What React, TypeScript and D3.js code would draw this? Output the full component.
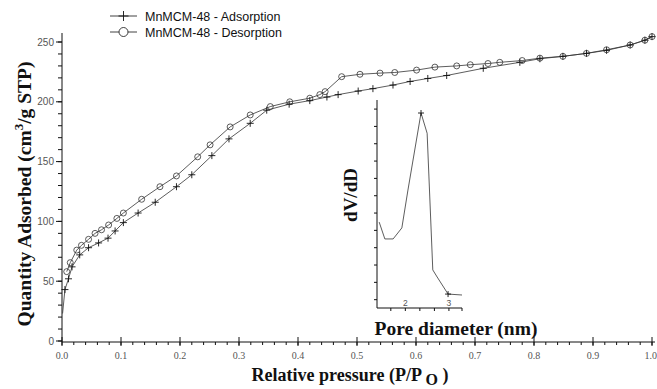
import * as d3 from "d3";
import React, { useEffect, useRef } from "react";

// isotherm
const adsP = [0.001, 0.005, 0.011, 0.017, 0.03, 0.045, 0.062, 0.078, 0.09, 0.104, 0.129, 0.158, 0.194, 0.22, 0.254, 0.283, 0.319, 0.347, 0.385, 0.42, 0.449, 0.468, 0.502, 0.527, 0.561, 0.59, 0.62, 0.652, 0.714, 0.776, 0.81, 0.849, 0.889, 0.923, 0.963, 0.988, 1.0];
const adsQ = [23, 43, 52, 62, 72, 78, 82, 86, 92, 99, 107, 116, 129, 139, 155, 169, 182, 193, 198, 201, 204, 206, 209, 211, 214, 217, 219.5, 222, 228, 233, 236, 238, 240.5, 243, 247.5, 251.5, 254.5];

const desP = [0.008, 0.014, 0.025, 0.033, 0.045, 0.056, 0.067, 0.079, 0.093, 0.104, 0.135, 0.166, 0.194, 0.23, 0.251, 0.285, 0.319, 0.353, 0.386, 0.42, 0.437, 0.446, 0.474, 0.505, 0.539, 0.564, 0.601, 0.632, 0.669, 0.692, 0.722, 0.742, 0.78, 0.81, 0.849, 0.889, 0.923, 0.963, 0.988, 1.0];
const desQ = [58, 65.5, 76, 80, 85, 90, 93, 97, 102.5, 107, 118.5, 129, 138, 154, 164, 179, 189, 196, 200, 203, 206, 208.5, 221, 223, 224, 224.5, 226.5, 229, 230, 231, 232, 233, 234.5, 236.5, 238, 240.5, 243.5, 247.5, 251.5, 254.5];

// pore size distribution (inset)
const poreD = [1.4, 1.53, 1.72, 1.92, 2.06, 2.36, 2.5, 2.63, 2.73, 2.98, 3.3];
const poreV = [0.413, 0.332, 0.332, 0.385, 0.567, 0.9375, 0.84, 0.183, 0.149, 0.067, 0.0625];

const xTicks = [0, 0.1, 0.2, 0.3, 0.4, 0.5, 0.6, 0.7, 0.8, 0.9, 1.0];
const yTicks = [0, 50, 100, 150, 200, 250];
const seriesNames = ["MnMCM-48 - Adsorption", "MnMCM-48 - Desorption"];

const App: React.FC = () => {
  const svgRef = useRef<SVGSVGElement>(null);

  useEffect(() => {
    const svg = d3.select(svgRef.current);
    svg.selectAll("*").remove();

    const x = d3.scaleLinear().domain([0, 1]).range([62, 652]);
    const y = d3.scaleLinear().domain([0, 250]).range([341, 42]);
    const ink = "#111";
    const serif = "'Liberation Serif', 'Times New Roman', serif";
    const sans = "'Liberation Sans', Arial, sans-serif";

    // axes
    const g = svg.append("g");
    g.append("line").attr("x1", x(0)).attr("x2", 655).attr("y1", y(0) + 1).attr("y2", y(0) + 1).attr("stroke", ink);
    g.append("line").attr("x1", x(0)).attr("x2", x(0)).attr("y1", y(0) + 1).attr("y2", 33).attr("stroke", ink);

    const xMinor = d3.range(0, 1.001, 0.02);
    g.selectAll(".xm").data(xMinor).enter().append("line")
      .attr("x1", (d) => x(d)).attr("x2", (d) => x(d))
      .attr("y1", y(0) + 1).attr("y2", y(0) + 4).attr("stroke", ink);
    g.selectAll(".xM").data(xTicks).enter().append("line")
      .attr("x1", (d) => x(d)).attr("x2", (d) => x(d))
      .attr("y1", y(0) - 4).attr("y2", y(0) + 5).attr("stroke", ink);
    g.selectAll(".xl").data(xTicks).enter().append("text")
      .attr("x", (d) => x(d)).attr("y", 359).attr("text-anchor", (d) => (d === 1 ? "end" : "middle"))
      .attr("dx", (d) => (d === 1 ? 5 : 0))
      .attr("font-family", serif).attr("font-size", 10).attr("fill", "#555")
      .text((d) => d.toFixed(1));

    const yMinor = d3.range(0, 251, 10);
    g.selectAll(".ym").data(yMinor).enter().append("line")
      .attr("x1", x(0) - 4).attr("x2", x(0))
      .attr("y1", (d) => y(d)).attr("y2", (d) => y(d)).attr("stroke", ink);
    g.selectAll(".yM").data(yTicks).enter().append("line")
      .attr("x1", x(0) - 6).attr("x2", x(0))
      .attr("y1", (d) => y(d)).attr("y2", (d) => y(d)).attr("stroke", ink);
    g.selectAll(".yl").data(yTicks).enter().append("text")
      .attr("x", x(0) - 8).attr("y", (d) => y(d) + 3.5).attr("text-anchor", "end")
      .attr("font-family", sans).attr("font-size", 10).attr("fill", "#555")
      .text((d) => d);

    // axis titles
    const yt = svg.append("text")
      .attr("transform", "translate(31,194) rotate(-90)")
      .attr("text-anchor", "middle").attr("font-family", serif)
      .attr("font-weight", "bold").attr("font-size", 19.5).attr("fill", ink);
    yt.append("tspan").text("Quantity Adsorbed (cm");
    yt.append("tspan").attr("dy", -8).attr("font-size", 13).text("3");
    yt.append("tspan").attr("dy", 8).text("/g STP)");

    const xt = svg.append("text")
      .attr("x", 350).attr("y", 381).attr("text-anchor", "middle")
      .attr("font-family", serif).attr("font-weight", "bold").attr("font-size", 18).attr("fill", ink);
    xt.append("tspan").text("Relative pressure (P/P ");
    xt.append("tspan").attr("dy", 4).attr("font-size", 16).text("O");
    xt.append("tspan").attr("dy", -4).text(" )");

    // series
    const adsData = adsP.map((p, i) => [p, adsQ[i]] as [number, number]);
    const desData = desP.map((p, i) => [p, desQ[i]] as [number, number]);
    const line = d3.line<[number, number]>().x((d) => x(d[0])).y((d) => y(d[1]));

    svg.append("path").attr("d", line(adsData)).attr("fill", "none").attr("stroke", "#333").attr("stroke-width", 0.8);
    svg.append("path").attr("d", line(desData)).attr("fill", "none").attr("stroke", "#333").attr("stroke-width", 0.8);

    const plus = (sel: d3.Selection<SVGGElement, unknown, null, undefined>, cx: number, cy: number, r: number) => {
      sel.append("line").attr("x1", cx - r).attr("x2", cx + r).attr("y1", cy).attr("y2", cy).attr("stroke", ink).attr("stroke-width", 0.9);
      sel.append("line").attr("x1", cx).attr("x2", cx).attr("y1", cy - r).attr("y2", cy + r).attr("stroke", ink).attr("stroke-width", 0.9);
    };

    const marks = svg.append("g") as d3.Selection<SVGGElement, unknown, null, undefined>;
    adsData.slice(1).forEach((d) => plus(marks, x(d[0]), y(d[1]), 3.5));
    marks.selectAll("circle").data(desData).enter().append("circle")
      .attr("cx", (d) => x(d[0])).attr("cy", (d) => y(d[1])).attr("r", 3)
      .attr("fill", "none").attr("stroke", "#333").attr("stroke-width", 0.8);

    // legend
    const lg = svg.append("g") as d3.Selection<SVGGElement, unknown, null, undefined>;
    seriesNames.forEach((name, i) => {
      const ly = 16 + i * 16;
      lg.append("line").attr("x1", 110).attr("x2", 137).attr("y1", ly).attr("y2", ly).attr("stroke", ink).attr("stroke-width", 0.8);
      if (i === 0) plus(lg, 123.5, ly, 5);
      else lg.append("circle").attr("cx", 123.5).attr("cy", ly).attr("r", 4.5).attr("fill", "white").attr("stroke", ink).attr("stroke-width", 0.8);
      lg.append("text").attr("x", 145).attr("y", ly + 4.5)
        .attr("font-family", sans).attr("font-size", 12.5).attr("fill", ink).text(name);
    });

    // inset
    const ix = d3.scaleLinear().domain([1.35, 3.3]).range([377, 462]);
    const iy = d3.scaleLinear().domain([0, 1]).range([308, 100]);
    const ins = svg.append("g") as d3.Selection<SVGGElement, unknown, null, undefined>;
    ins.append("line").attr("x1", ix(1.35)).attr("x2", ix(1.35)).attr("y1", iy(0)).attr("y2", iy(1)).attr("stroke", ink);
    ins.append("line").attr("x1", ix(1.35)).attr("x2", ix(3.3)).attr("y1", iy(0)).attr("y2", iy(0)).attr("stroke", ink);
    ins.selectAll(".iyt").data(d3.range(0.04, 0.96, 0.0833)).enter().append("line")
      .attr("x1", ix(1.35) - 3).attr("x2", ix(1.35))
      .attr("y1", (d) => iy(d)).attr("y2", (d) => iy(d)).attr("stroke", ink);
    ins.selectAll(".ixt").data([1.667, 2, 2.333, 2.667, 3, 3.3]).enter().append("line")
      .attr("x1", (d) => ix(d)).attr("x2", (d) => ix(d))
      .attr("y1", iy(0)).attr("y2", iy(0) + 3).attr("stroke", ink);
    ins.selectAll(".ixl").data([2, 3]).enter().append("text")
      .attr("x", (d) => ix(d)).attr("y", iy(0) - 2).attr("text-anchor", "middle")
      .attr("font-family", sans).attr("font-size", 8.5).attr("fill", "#555").text((d) => d);

    const poreData = poreD.map((d, i) => [d, poreV[i]] as [number, number]);
    const pline = d3.line<[number, number]>().x((d) => ix(d[0])).y((d) => iy(d[1]));
    ins.append("path").attr("d", pline(poreData)).attr("fill", "none").attr("stroke", "#333").attr("stroke-width", 0.8);
    plus(ins, ix(poreD[5]), iy(poreV[5]), 3);
    plus(ins, ix(poreD[9]), iy(poreV[9]), 3);

    ins.append("text").attr("transform", "translate(357,195) rotate(-90)")
      .attr("text-anchor", "middle").attr("font-family", serif).attr("font-weight", "bold")
      .attr("font-size", 19).attr("fill", ink).text("dV/dD");
    ins.append("text").attr("x", 456).attr("y", 335).attr("text-anchor", "middle")
      .attr("font-family", serif).attr("font-weight", "bold").attr("font-size", 19.5)
      .attr("fill", ink).text("Pore diameter (nm)");
  }, []);

  return (
    <div style={{ position: "absolute", left: 0, top: 0 }}>
      <svg ref={svgRef} width={657} height={389} style={{ display: "block", background: "white" }}></svg>
    </div>
  );
};

export default App;
